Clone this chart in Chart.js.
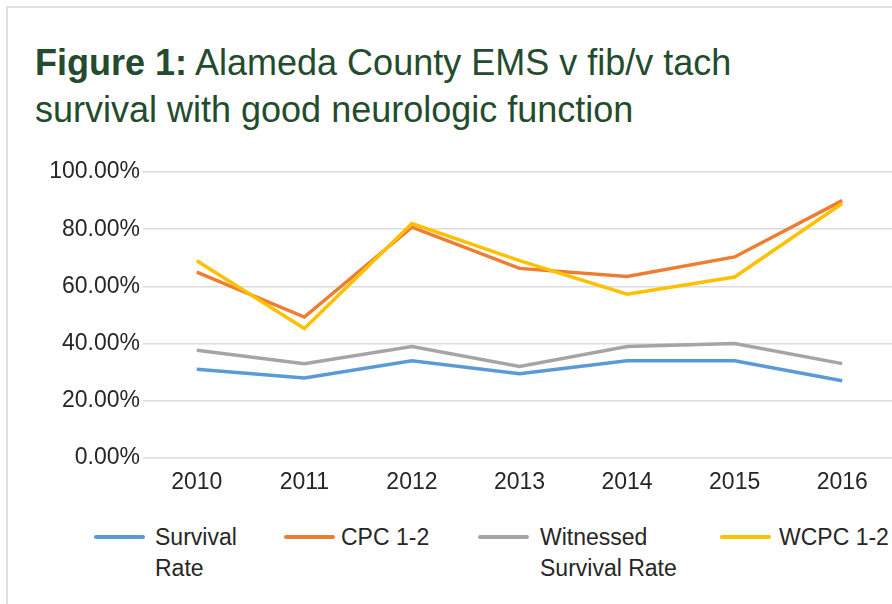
<!DOCTYPE html>
<html>
<head>
<meta charset="utf-8">
<script src="https://cdn.jsdelivr.net/npm/chart.js@4"></script>
<style>
  html, body { margin: 0; padding: 0; background: #fff; overflow: hidden; }
  #page { position: relative; width: 892px; height: 604px; overflow: hidden; }
  #frame { position: absolute; left: 6px; top: 6px; width: 900px; height: 620px;
           border-top: 2px solid #dde1e6; border-left: 2px solid #dde1e6; }
  .title { position: absolute; left: 35px; font-family: "Liberation Sans", sans-serif;
           font-size: 36px; line-height: 41px; color: #234b2e; white-space: nowrap; }
  #chartBox { position: absolute; left: 0; top: 150px; width: 896px; height: 350px; }
  .lg { position: absolute; font-family: "Liberation Sans", sans-serif; white-space: nowrap;
        font-size: 23px; line-height: 31px; color: #262626; top: 522px; }
  .sw { position: absolute; height: 4px; width: 51px; top: 535px; border-radius: 2px; }
</style>
</head>
<body>
<div id="page">
  <div id="frame"></div>
  <div class="title" style="top:42px"><b>Figure 1:</b> Alameda County EMS v fib/v tach</div>
  <div class="title" style="top:89px">survival with good neurologic function</div>
  <div id="chartBox"><canvas id="survivalChart"></canvas></div>
  <div id="legend"></div>
</div>
<script>
const years = ["2010", "2011", "2012", "2013", "2014", "2015", "2016"];
const survivalRate = [31, 28, 34, 29.5, 34, 34, 27];
const cpc12 = [65, 49.3, 80.7, 66.3, 63.5, 70.3, 90];
const witnessedSurvival = [37.7, 33, 39, 32, 39, 40, 33];
const wcpc12 = [69, 45.3, 82, 69, 57.3, 63.3, 89];
const yTicks = [0, 20, 40, 60, 80, 100];

const seriesNames = [["Survival", "Rate"], ["CPC 1-2"], ["Witnessed", "Survival Rate"], ["WCPC 1-2"]];
const seriesColors = ["#5b9bd5", "#ed7d31", "#a5a5a5", "#ffc000"];
const seriesData = [survivalRate, cpc12, witnessedSurvival, wcpc12];

const ctx = document.getElementById("survivalChart").getContext("2d");

const survivalChart = new Chart(ctx, {
  type: "line",
  data: {
    labels: years,
    datasets: seriesData.map((d, i) => ({
      label: seriesNames[i].join(" "),
      data: d,
      borderColor: seriesColors[i],
      backgroundColor: seriesColors[i],
      borderWidth: 3.5,
      pointRadius: 0,
      tension: 0,
      // later series sit on top like the original
      order: 4 - i
    }))
  },
  options: {
    responsive: true,
    maintainAspectRatio: false,
    animation: false,
    layout: { padding: { top: 22, left: 0, right: 0, bottom: 0 } },
    scales: {
      x: {
        offset: true,
        grid: { display: false, drawTicks: false },
        border: { display: false },
        ticks: {
          padding: 11,
          color: "#262626",
          font: { family: "Liberation Sans", size: 23 }
        },
        afterFit(scale) { scale.height = 42; }
      },
      y: {
        min: 0,
        max: 100,
        afterBuildTicks(scale) { scale.ticks = yTicks.map(v => ({ value: v })); },
        grid: { color: "#dcdcdc", lineWidth: 1.5, drawTicks: false },
        border: { display: false },
        ticks: {
          padding: 3,
          color: "#262626",
          font: { family: "Liberation Sans", size: 23 },
          callback: v => v.toFixed(2) + "%"
        },
        afterFit(scale) { scale.width = 143; }
      }
    },
    plugins: {
      legend: { display: false },
      tooltip: { enabled: false }
    }
  }
});

// legend as html so the labels can wrap onto two lines
const swatchX = [94, 284, 478, 720];
const textX = [155, 341, 540, 779];
const legendBox = document.getElementById("legend");
seriesNames.forEach((name, i) => {
  const sw = document.createElement("div");
  sw.className = "sw";
  sw.style.left = swatchX[i] + "px";
  sw.style.background = seriesColors[i];
  legendBox.appendChild(sw);
  const t = document.createElement("div");
  t.className = "lg";
  t.style.left = textX[i] + "px";
  t.innerHTML = name.join("<br>");
  legendBox.appendChild(t);
});
</script>
</body>
</html>
